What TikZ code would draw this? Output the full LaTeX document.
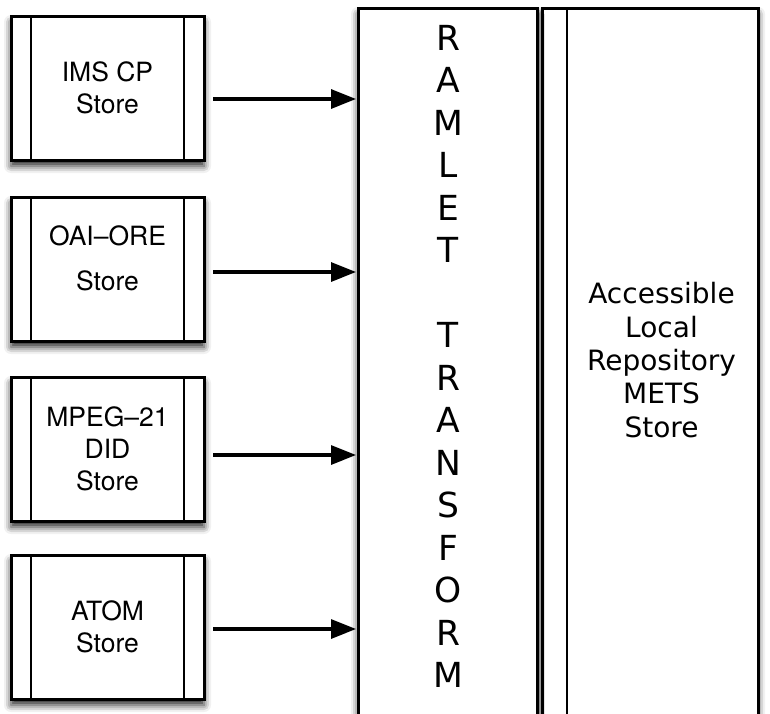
\documentclass[tikz,border=0pt]{standalone}
\usepackage{fontspec}
\newfontfamily\rlhelv{TeX Gyre Heros}
\newfontfamily\rlverd{DejaVu Sans}
\usepackage{tikz}
\usetikzlibrary{arrows.meta,positioning,shadows.blur}
\tikzset{
  rlshadow/.style={
    blur shadow={shadow xshift=0pt,shadow yshift=-6pt,
      shadow blur radius=7pt,shadow opacity=85}
  },
  rlstore/.style={
    rectangle, draw=black, fill=white, line width=3pt, outer sep=0pt,
    minimum width=193pt, minimum height=144pt, inner sep=0pt,
    align=center, font=\rlhelv\fontsize{26.5}{32}\selectfont, rlshadow
  },
  rlcolumn/.style={
    rectangle, draw=black, fill=white, line width=3pt, outer sep=0pt,
    minimum height=760pt, inner sep=0pt, anchor=north west, rlshadow
  },
  rlbar/.style={line width=2.8pt},
  rltext/.style={inner sep=0pt,align=center},
  rledge/.style={-{Triangle[length=25pt,width=19pt]},line width=3.2pt,shorten >=2pt}
}

\begin{document}
\begin{tikzpicture}[x=1pt,y=-1pt,node distance=36pt]
  \useasboundingbox (0,0) rectangle (770,713);
  \node[rlcolumn,minimum width=216pt] (repo) at (542,8) {};
  \node[rlcolumn,minimum width=179pt] (ramlet) at (358,8) {};
  \draw[rlbar] ([xshift=25pt]repo.north west) -- ([xshift=25pt]repo.south west);
  \node[rltext,font=\rlverd\fontsize{34.5}{42.5}\selectfont,anchor=north] (ramletlabel) at (448,25)
    {R\\A\\M\\L\\E\\T\\[42.5pt]T\\R\\A\\N\\S\\F\\O\\R\\M};
  \node[rltext,font=\rlverd\fontsize{28}{33.3}\selectfont] (repolabel) at (661.5,360)
    {Accessible\\Local\\Repository\\METS\\Store};
  \node[rlstore] (ims) at (107.5,88) {IMS CP\\Store};
  \node[rlstore,below=37pt of ims] (oai) {OAI–ORE\\[13pt]Store\rule[-22pt]{0pt}{0pt}};
  \node[rlstore,below=36pt of oai] (mpeg) {MPEG–21\\DID\\Store};
  \node[rlstore,below=34pt of mpeg] (atom) {ATOM\\Store};
  \foreach \n/\s in {ims/-11,oai/-3,mpeg/-6,atom/-2} {
    \draw[rlbar] ([xshift=20pt]\n.north west) -- ([xshift=20pt]\n.south west);
    \draw[rlbar] ([xshift=-20pt]\n.north east) -- ([xshift=-20pt]\n.south east);
    \draw[rledge] ([xshift=9pt,yshift=\s pt]\n.east) -- ([yshift=\s pt]\n.east -| ramlet.west);
  }
\end{tikzpicture}
\end{document}
